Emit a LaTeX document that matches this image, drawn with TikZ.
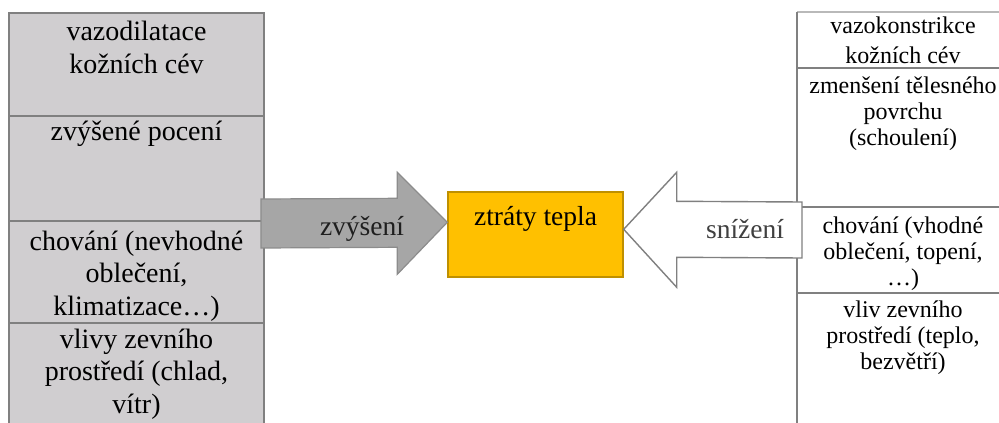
\documentclass[tikz,border=0pt]{standalone}
\usepackage{fontspec}
\setmainfont{Liberation Serif}
\usetikzlibrary{calc}
\definecolor{cellgray}{RGB}{208,206,208}
\definecolor{rulegray}{RGB}{128,128,128}
\definecolor{arrowgray}{RGB}{166,166,166}
\definecolor{arrowedge}{RGB}{140,140,140}
\definecolor{heatfill}{RGB}{255,192,0}
\definecolor{heatedge}{RGB}{191,144,0}
\definecolor{textgray}{RGB}{64,64,64}
% multi-line nodes are placed by the baseline of their last line
\tikzset{
  lefttext/.style={align=center, anchor=base, inner sep=0pt,
    font=\fontsize{28}{32.5}\selectfont},
  righttext/.style={align=center, anchor=base, inner sep=0pt,
    font=\fontsize{24}{26}\selectfont},
  rule/.style={draw=rulegray, line width=1.4pt},
  labeltext/.style={anchor=base, inner sep=0pt,
    font=\fontsize{27.5}{30}\selectfont}
}
\begin{document}
\begin{tikzpicture}[x=1pt,y=-1pt]
\useasboundingbox (0,0) rectangle (999,423);
\clip (0,0) rectangle (999,423);

% left column: factors that raise heat loss
\fill[cellgray] (9,13) rectangle (264,440);
\draw[rule] (9,440) -- (9,13) -- (264,13) -- (264,440);
\draw[rule] (9,116) -- (264,116);
\draw[rule] (9,221) -- (264,221);
\draw[rule] (9,323) -- (264,323);
\node[lefttext] (l1) at (136.5,73) {vazodilatace\\kožních cév};
\node[lefttext] (l2) at (136.5,140) {zvýšené pocení};
\node[lefttext] (l3) at (136.5,315) {chování (nevhodné\\oblečení,\\klimatizace…)};
\node[lefttext] (l4) at (136.5,413) {vlivy zevního\\prostředí (chlad,\\vítr)};

% right column: factors that lower heat loss
\draw[draw=rulegray!55, line width=1.2pt] (797,12) -- (1010,12);
\draw[rule] (797,12) -- (797,440);
\draw[rule] (797,68) -- (1010,68);
\draw[rule] (797,207) -- (1010,207);
\draw[rule] (797,293) -- (1010,293);

% central box
\node[draw=heatedge, fill=heatfill, line width=1.4pt, minimum width=175pt,
  minimum height=85pt, inner sep=0pt] (loss) at (535.5,234.5) {};
\node[labeltext] (losstext) at (535.5,225) {ztráty tepla};

% increasing arrow
\coordinate (ltip) at ($(loss.north west)+(0,31)$);
\draw[fill=arrowgray, draw=arrowedge, line width=1.2pt, line join=miter]
  (ltip) -- ++(-50,-50) -- ++(0,26) -- (261,199) -- (261,248)
  -- ($(ltip)+(-50,25)$) -- ($(ltip)+(-50,52)$) -- cycle;
\node[labeltext, text=black!88] (up) at (362,235) {zvýšení};

% decreasing arrow
\coordinate (rtip) at ($(loss.north east)+(0,38)$);
\draw[fill=white, draw=rulegray, line width=1.4pt, line join=miter]
  (rtip) -- ($(rtip)+(53,-57)$) -- ($(rtip)+(53,-28)$) -- (802,202)
  -- (802,258) -- ($(rtip)+(53,28)$) -- ($(rtip)+(53,58)$) -- cycle;
\node[labeltext, text=textgray] (down) at (745,238) {snížení};

\node[righttext] (r1) at (903,63) {vazokonstrikce\\[4pt]kožních cév};
\node[righttext] (r2) at (903,145) {zmenšení tělesného\\povrchu\\(schoulení)};
\node[righttext] (r3) at (903,285) {chování (vhodné\\oblečení, topení,\\…)};
\node[righttext] (r4) at (903,369) {vliv zevního\\prostředí (teplo,\\bezvětří)};
\end{tikzpicture}
\end{document}
